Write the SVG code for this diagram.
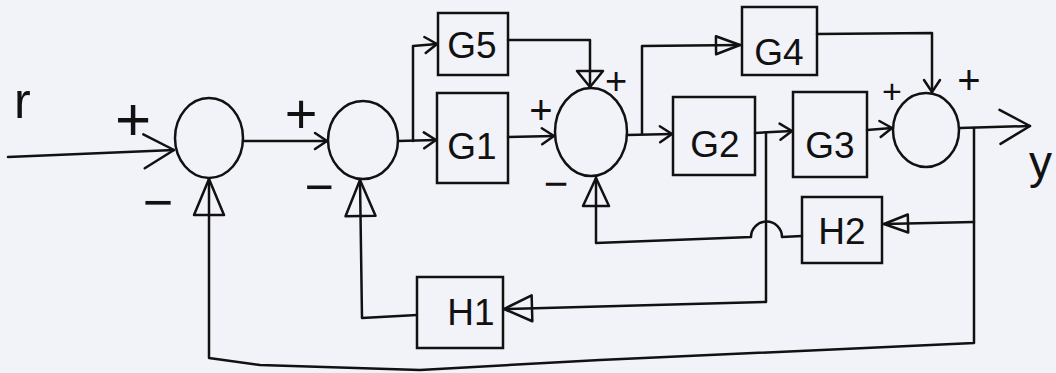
<svg xmlns="http://www.w3.org/2000/svg" width="1056" height="373" viewBox="0 0 1056 373">
<style>
.ln{fill:none;stroke:#111;stroke-width:2.5;stroke-linejoin:round;stroke-linecap:round}
.blk{fill:none;stroke:#111;stroke-width:2.5}
.mk{fill:none;stroke:#111;stroke-width:2.5;stroke-linejoin:round;stroke-linecap:round}
.lbl{font-family:"Liberation Sans",Arial,sans-serif;font-size:37px;fill:#111;text-anchor:middle}
.sgn{font-family:"Liberation Sans",Arial,sans-serif;fill:#111;text-anchor:middle;dominant-baseline:central}
.io{font-family:"Liberation Sans",Arial,sans-serif;fill:#111}
</style>
<defs>
<marker id="vee" markerUnits="userSpaceOnUse" orient="auto" markerWidth="1" markerHeight="1" refX="0" refY="0" overflow="visible"><path class="mk" d="M-12,-8 L0,0 L-12,8"/></marker>
<marker id="veeBig" markerUnits="userSpaceOnUse" orient="auto" markerWidth="1" markerHeight="1" refX="0" refY="0" overflow="visible"><path class="mk" d="M-30,-17 L0,0 L-30,17"/></marker>
<marker id="tri" markerUnits="userSpaceOnUse" orient="auto" markerWidth="1" markerHeight="1" refX="0" refY="0" overflow="visible"><path class="mk" d="M-24,-9 L0,0 L-24,9 Z"/></marker>
<marker id="triMid" markerUnits="userSpaceOnUse" orient="auto" markerWidth="1" markerHeight="1" refX="0" refY="0" overflow="visible"><path class="mk" d="M-28,-13 L0,0 L-28,13 Z"/></marker>
<marker id="triBig" markerUnits="userSpaceOnUse" orient="auto" markerWidth="1" markerHeight="1" refX="0" refY="0" overflow="visible"><path class="mk" d="M-36,-15 L0,0 L-36,15 Z"/></marker>
<marker id="triWide" markerUnits="userSpaceOnUse" orient="auto" markerWidth="1" markerHeight="1" refX="0" refY="0" overflow="visible"><path class="mk" d="M-16,-13 L0,0 L-16,13 Z"/></marker>
</defs>
<rect width="1056" height="373" fill="#f2f2f9"/>

<g id="connectors">
<path class="ln" d="M8,157 L174,150" marker-end="url(#veeBig)"/>
<path class="ln" d="M243,141 L327,141" marker-end="url(#vee)"/>
<path class="ln" d="M398,141 L436,140" marker-end="url(#vee)"/>
<path class="ln" d="M413,141 L413,46 L437,44" marker-end="url(#vee)"/>
<path class="ln" d="M508,137 L554,136" marker-end="url(#vee)"/>
<path class="ln" d="M508,40 L590,40 L590,87" marker-end="url(#triWide)"/>
<path class="ln" d="M627,135 L672,134" marker-end="url(#vee)"/>
<path class="ln" d="M642,134 L642,46 L740,45" marker-end="url(#tri)"/>
<path class="ln" d="M817,34 L932,33 L932,92" marker-end="url(#vee)"/>
<path class="ln" d="M755,133 L792,131" marker-end="url(#vee)"/>
<path class="ln" d="M766,133 L766,302 L504,309" marker-end="url(#triMid)"/>
<path class="ln" d="M867,130 L892,128" marker-end="url(#vee)"/>
<path class="ln" d="M960,128 L1030,126" marker-end="url(#veeBig)"/>
<path class="ln" d="M974,128 L974,343 L600,360 L420,370 L260,365 L209,358 L209,179" marker-end="url(#triBig)"/>
<path class="ln" d="M974,222 L884,224" marker-end="url(#tri)"/>
<path class="ln" d="M802,236 L782,237 A15,15 0 0 0 751,237 L596,243 L596,178" marker-end="url(#triMid)"/>
<path class="ln" d="M417,315 L362,318 L360,180" marker-end="url(#triBig)"/>
</g>

<g id="sum1"><ellipse class="blk" cx="209" cy="138" rx="34" ry="40"/></g>
<g id="sum2"><ellipse class="blk" cx="363" cy="140" rx="35" ry="39"/></g>
<g id="sum3"><ellipse class="blk" cx="591" cy="132" rx="36" ry="44"/></g>
<g id="sum4"><ellipse class="blk" cx="926" cy="130" rx="33" ry="37"/></g>

<g id="G5"><rect class="blk" x="438" y="13" width="70" height="62"/><text class="lbl" x="472" y="58">G5</text></g>
<g id="G1"><rect class="blk" x="437" y="93" width="71" height="90"/><text class="lbl" x="472" y="159">G1</text></g>
<g id="G4"><rect class="blk" x="742" y="7" width="75" height="68"/><text class="lbl" x="779" y="65">G4</text></g>
<g id="G2"><rect class="blk" x="673" y="97" width="82" height="78"/><text class="lbl" x="715" y="157">G2</text></g>
<g id="G3"><rect class="blk" x="793" y="92" width="74" height="85"/><text class="lbl" x="830" y="158">G3</text></g>
<g id="H2"><rect class="blk" x="802" y="197" width="80" height="66"/><text class="lbl" x="842" y="244">H2</text></g>
<g id="H1"><rect class="blk" x="417" y="277" width="86" height="71"/><text class="lbl" x="471" y="325">H1</text></g>

<g id="labels">
<text class="io" x="14" y="118" font-size="50">r</text>
<text class="io" x="1029" y="178" font-size="46">y</text>
<text class="sgn" x="133" y="118" font-size="62">+</text>
<text class="sgn" x="158" y="202" font-size="52">−</text>
<text class="sgn" x="301" y="113" font-size="56">+</text>
<text class="sgn" x="319" y="187" font-size="50">−</text>
<text class="sgn" x="541" y="110" font-size="40">+</text>
<text class="sgn" x="556" y="183" font-size="42">−</text>
<text class="sgn" x="616" y="81" font-size="38">+</text>
<text class="sgn" x="892" y="91" font-size="34">+</text>
<text class="sgn" x="969" y="80" font-size="40">+</text>
</g>
</svg>
